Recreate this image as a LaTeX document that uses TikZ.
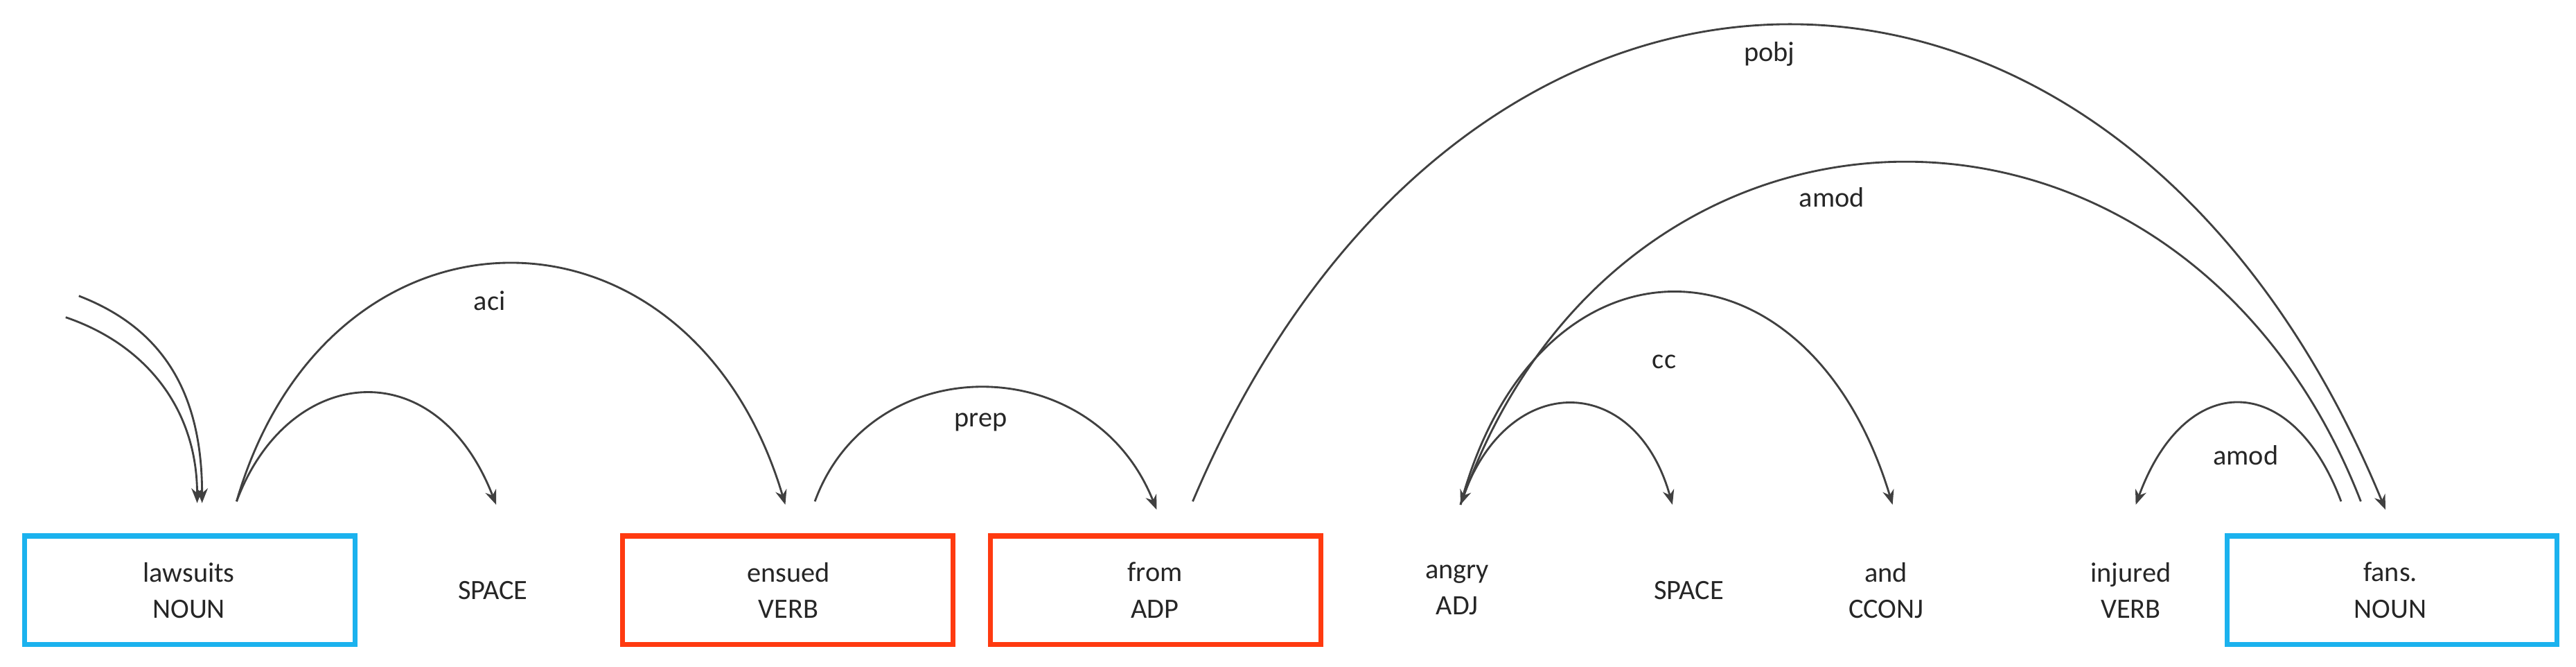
\documentclass[tikz,border=0pt]{standalone}
\usepackage{fontspec}
\setmainfont{Carlito}
\usetikzlibrary{arrows.meta}
\definecolor{bl}{HTML}{1BB2EE}
\definecolor{rd}{HTML}{FF3A10}
\definecolor{ar}{HTML}{404040}
\begin{document}
\begin{tikzpicture}[x=1pt,y=-1pt,
  box/.style={draw=#1,line width=3pt,minimum width=201pt,minimum height=66pt,inner sep=0pt},
  word/.style={font=\fontsize{17}{22}\selectfont,align=center,text=black!85},
  dep/.style={draw=ar,line width=1.2pt,-{Stealth[length=9pt,width=7pt]}},
  lbl/.style={font=\fontsize{17}{20}\selectfont,text=black!85}]
\useasboundingbox (0,0) rectangle (1568,405.7);
\node[box=bl] (b1) at (115.5,359) {};
\node[box=rd] (b3) at (479.5,359) {};
\node[box=rd] (b4) at (703.5,359) {};
\node[box=bl] (b9) at (1456,359) {};
\node[word] (w1) at (115,359) {lawsuits\\NOUN};
\node[word] (w2) at (300,359) {SPACE};
\node[word] (w3) at (480,359) {ensued\\VERB};
\node[word] (w4) at (703,359) {from\\ADP};
\node[word] (w5) at (887,359) {angry\\ADJ};
\node[word] (w6) at (1028,359) {SPACE};
\node[word] (w7) at (1148,359) {and\\CCONJ};
\node[word] (w8) at (1297,359) {injured\\VERB};
\node[word] (w9) at (1455,359) {fans.\\NOUN};
% endpoints
\coordinate (r1) at (48,180); \coordinate (r2) at (40,193);
\coordinate (t1a) at (120,306); \coordinate (t1b) at (123,306);
\coordinate (s1) at (144,305);
\coordinate (t2) at (302,307);
\coordinate (t3) at (478,307);
\coordinate (s3) at (496,305);
\coordinate (t4) at (704,310);
\coordinate (s4) at (726,305);
\coordinate (t9) at (1452,310);
\coordinate (s9a) at (1437,305);
\coordinate (s9b) at (1425,305);
\coordinate (t5) at (889,307);
\coordinate (t6) at (1018,307);
\coordinate (t7) at (1152,307);
\coordinate (t8) at (1300,307);
% root arrows
\draw[dep] (r1) .. controls (100,200) and (123,240) .. (t1b);
\draw[dep] (r2) .. controls (90,210) and (120,250) .. (t1a);
% arcs
\draw[dep] (s1) .. controls (175,222) and (265,212) .. (t2);
\draw[dep] (s1) .. controls (200,112) and (420,112) .. (t3);
\draw[dep] (s3) .. controls (530,212) and (665,212) .. (t4);
\draw[dep] (s4) .. controls (890,-82) and (1290,-82) .. (t9);
\draw[dep] (s9a) .. controls (1330,30) and (990,30) .. (t5);
\draw[dep] (t5) .. controls (935,135) and (1100,135) .. (t7);
\draw[dep] (t5) .. controls (915,225) and (995,225) .. (t6);
\draw[dep] (s9b) .. controls (1395,225) and (1330,225) .. (t8);
% labels
\node[lbl] at (298,183) {aci};
\node[lbl] at (597,257) {prep};
\node[lbl] at (1077,33) {pobj};
\node[lbl] at (1115,120) {amod};
\node[lbl] at (1013,220) {cc};
\node[lbl] at (1367,277) {amod};
\end{tikzpicture}
\end{document}
